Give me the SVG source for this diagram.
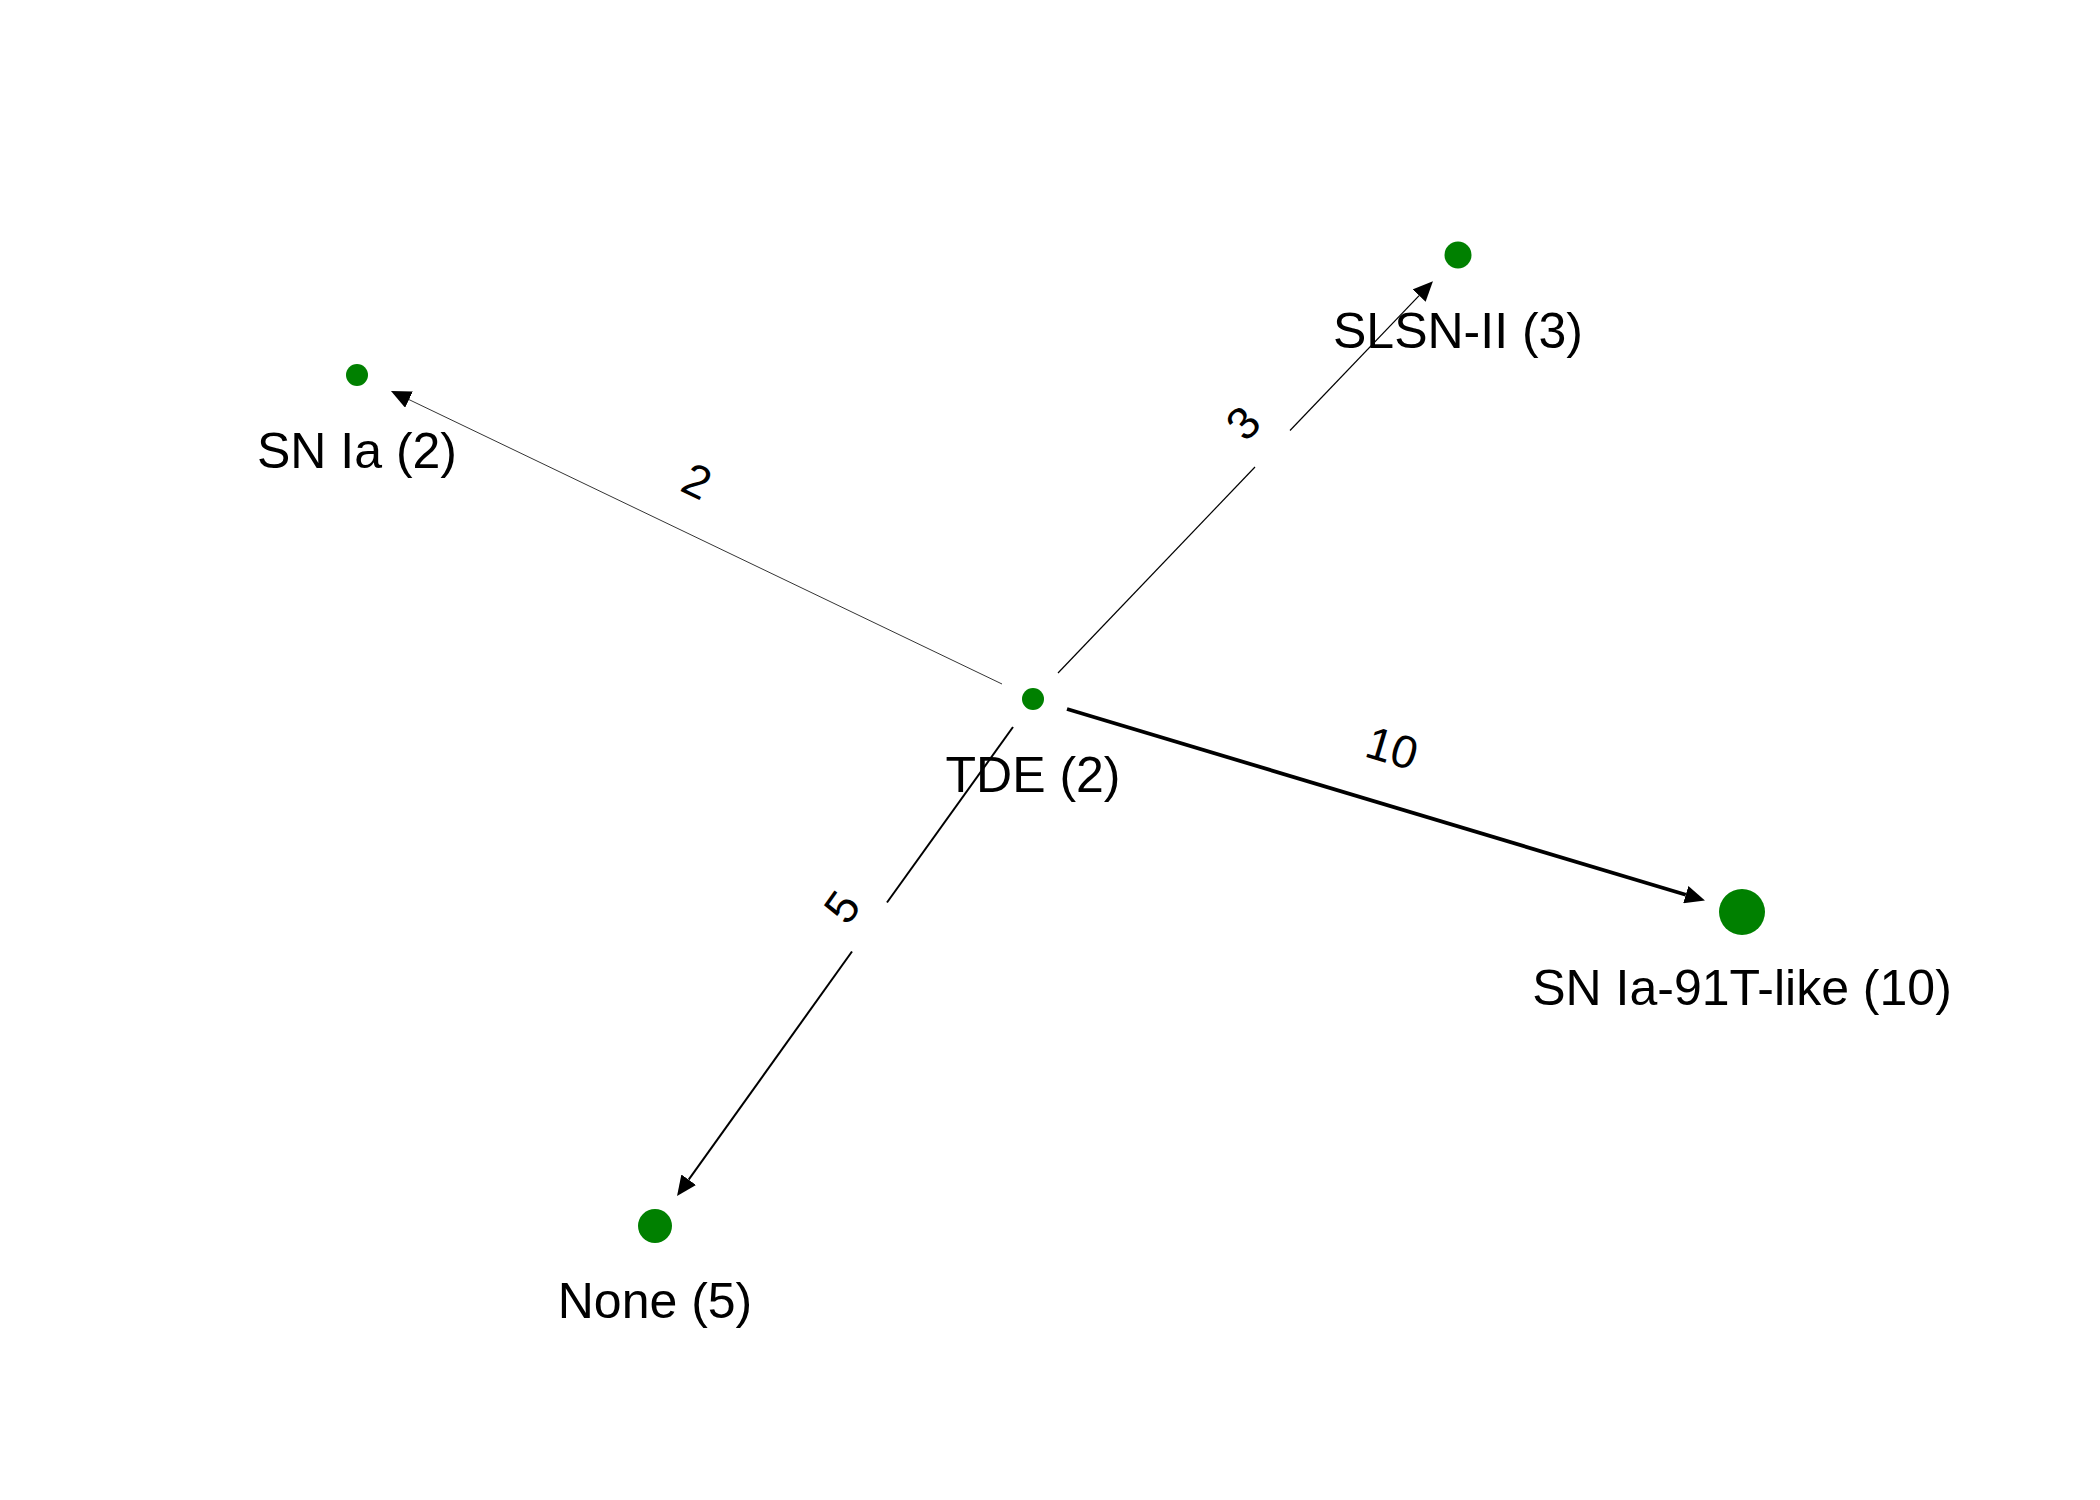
<svg xmlns="http://www.w3.org/2000/svg" width="2100" height="1500" viewBox="0 0 2100 1500">
<style>
.node{fill:#008000}
.nlabel{font-family:"Liberation Sans",Arial,sans-serif;font-size:50px;fill:#000;text-anchor:middle}
.elabel{font-family:"Liberation Sans",Arial,sans-serif;font-size:46px;fill:#000;text-anchor:middle}
.edge{stroke:#000;fill:none;stroke-linecap:butt}
</style>
<defs>
<marker id="arrow" markerUnits="userSpaceOnUse" markerWidth="20" markerHeight="18" refX="0" refY="9" orient="auto" viewBox="0 0 20 18">
<path d="M0,0 L20,9 L0,18 z" fill="#000"/>
</marker>
</defs>
<rect width="2100" height="1500" fill="#fff"/>
<g id="connectors">
<g id="edge-tde-snia">
<line class="edge" x1="1002" y1="684" x2="409" y2="399.6" stroke-width="0.8" marker-end="url(#arrow)"/>
<text class="elabel" transform="translate(697,481) rotate(25.6)" dy="16">2</text>
</g>
<g id="edge-tde-slsn">
<line class="edge" x1="1058" y1="673" x2="1255" y2="467" stroke-width="1.2"/>
<line class="edge" x1="1290" y1="430.5" x2="1419.1" y2="295.6" stroke-width="1.2" marker-end="url(#arrow)"/>
<text class="elabel" transform="translate(1243,423) rotate(-46.3)" dy="16">3</text>
</g>
<g id="edge-tde-91t">
<line class="edge" x1="1067" y1="709" x2="1685.8" y2="894.7" stroke-width="3.8" marker-end="url(#arrow)"/>
<text class="elabel" transform="translate(1392,748) rotate(16.75)" dy="16">10</text>
</g>
<g id="edge-tde-none">
<line class="edge" x1="1013" y1="727" x2="887" y2="902.5" stroke-width="2"/>
<line class="edge" x1="852" y1="951.5" x2="688.7" y2="1179.7" stroke-width="2" marker-end="url(#arrow)"/>
<text class="elabel" transform="translate(842,907) rotate(-54.4)" dy="16">5</text>
</g>
</g>
<g id="node-tde">
<circle class="node" cx="1033" cy="699" r="11"/>
<text class="nlabel" x="1033" y="792">TDE (2)</text>
</g>
<g id="node-snia">
<circle class="node" cx="357" cy="375" r="11"/>
<text class="nlabel" x="357" y="468">SN Ia (2)</text>
</g>
<g id="node-slsn">
<circle class="node" cx="1458" cy="255" r="13.5"/>
<text class="nlabel" x="1458" y="348">SLSN-II (3)</text>
</g>
<g id="node-91t">
<circle class="node" cx="1742" cy="912" r="23"/>
<text class="nlabel" x="1742" y="1005">SN Ia-91T-like (10)</text>
</g>
<g id="node-none">
<circle class="node" cx="655" cy="1226" r="17"/>
<text class="nlabel" x="655" y="1318">None (5)</text>
</g>
</svg>
